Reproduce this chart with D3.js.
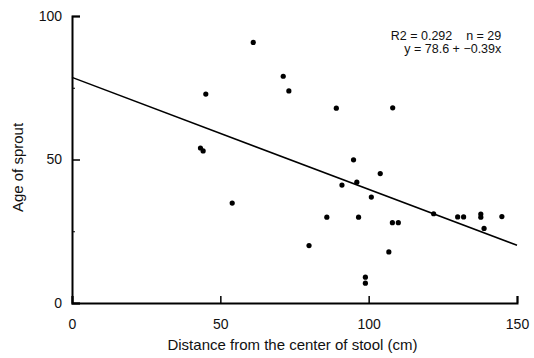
<!DOCTYPE html>
<html>
<head>
<meta charset="utf-8">
<script src="https://cdn.jsdelivr.net/npm/d3@7"></script>
<style>
  body { margin: 0; background: #fff; }
  text { font-family: "Liberation Sans", Arial, sans-serif; fill: #111; }
</style>
</head>
<body>
<div id="chart"></div>
<script>
// distance from stool centre (cm) and age of sprout
const distance = [61.1, 71.2, 73.1, 45.1, 89.1, 108.1, 43.3, 44.2, 54.0, 94.9,
                  96.0, 91.0, 85.9, 96.6, 103.9, 100.9, 108.0, 110.0, 121.9, 130.0,
                  132.0, 137.8, 137.8, 138.9, 144.9, 79.9, 106.8, 98.9, 98.9];
const age = [90.8, 79.0, 73.9, 72.8, 67.9, 68.0, 54.0, 53.0, 34.8, 49.9,
             42.1, 41.1, 29.9, 29.9, 45.1, 36.9, 28.0, 28.0, 31.1, 30.0,
             30.0, 31.0, 29.9, 26.0, 30.1, 20.0, 17.8, 9.0, 6.9];
const xTicks = [0, 50, 100, 150];
const yTicks = [0, 50, 100];
const yMinor = [25, 75];
const intercept = 78.6;
const slope = -0.39;
const statLines = ["R2 = 0.292    n = 29", "y = 78.6 + \u22120.39x"];

const width = 534, height = 358;
const margin = { top: 16, right: 17, bottom: 55, left: 72 };
const w = width - margin.left - margin.right;
const h = height - margin.top - margin.bottom;

const svg = d3.select("#chart").append("svg")
    .attr("width", width)
    .attr("height", height);

const g = svg.append("g")
    .attr("transform", `translate(${margin.left},${margin.top})`);

const x = d3.scaleLinear().domain([0, 150]).range([0, w]);
const y = d3.scaleLinear().domain([0, 100]).range([h, 0]);

// x axis, ticks pointing inward
g.append("g")
    .attr("transform", `translate(0,${h})`)
    .call(d3.axisBottom(x).tickValues(xTicks).tickSize(-7).tickPadding(16).tickFormat(d3.format("d")))
    .call(g => g.select(".domain").attr("stroke", "#000").attr("stroke-width", 2))
    .call(g => g.selectAll(".tick line").attr("stroke", "#000").attr("stroke-width", 1.5))
    .call(g => g.selectAll(".tick text").attr("font-size", 14).attr("fill", "#111")
        .style("font-family", "'Liberation Sans Narrow', 'Liberation Sans', sans-serif"));

// y axis
g.append("g")
    .call(d3.axisLeft(y).tickValues(yTicks).tickSize(-8).tickPadding(10).tickFormat(d3.format("d")))
    .call(g => g.select(".domain").attr("stroke", "#000").attr("stroke-width", 2))
    .call(g => g.selectAll(".tick line").attr("stroke", "#000").attr("stroke-width", 1.5))
    .call(g => g.selectAll(".tick text").attr("font-size", 14).attr("fill", "#111")
        .style("font-family", "'Liberation Sans Narrow', 'Liberation Sans', sans-serif"));

g.append("g")
    .call(d3.axisLeft(y).tickValues(yMinor).tickSize(-3).tickFormat(""))
    .call(g => g.select(".domain").remove())
    .call(g => g.selectAll(".tick line").attr("stroke", "#000"));

// regression line
g.append("line")
    .attr("x1", x(0)).attr("y1", y(intercept))
    .attr("x2", x(150)).attr("y2", y(intercept + slope * 150))
    .attr("stroke", "#000")
    .attr("stroke-width", 1.5);

// points
g.selectAll("circle")
    .data(distance)
    .join("circle")
    .attr("cx", d => x(d))
    .attr("cy", (d, i) => y(age[i]))
    .attr("r", 2.6)
    .attr("fill", "#000");

// stats text
g.selectAll(".stat")
    .data(statLines)
    .join("text")
    .attr("class", "stat")
    .attr("x", x(144.7))
    .attr("y", (d, i) => 23.5 + i * 13.5)
    .attr("text-anchor", "end")
    .attr("font-size", 12.5)
    .style("white-space", "pre")
    .text(d => d);

// axis titles
svg.append("text")
    .attr("x", margin.left + w / 2 - 2)
    .attr("y", 350)
    .attr("text-anchor", "middle")
    .attr("font-size", 15)
    .text("Distance from the center of stool (cm)");

svg.append("text")
    .attr("transform", `translate(23,${margin.top + h / 2 + 8}) rotate(-90)`)
    .attr("text-anchor", "middle")
    .attr("font-size", 15)
    .text("Age of sprout");
</script>
</body>
</html>
